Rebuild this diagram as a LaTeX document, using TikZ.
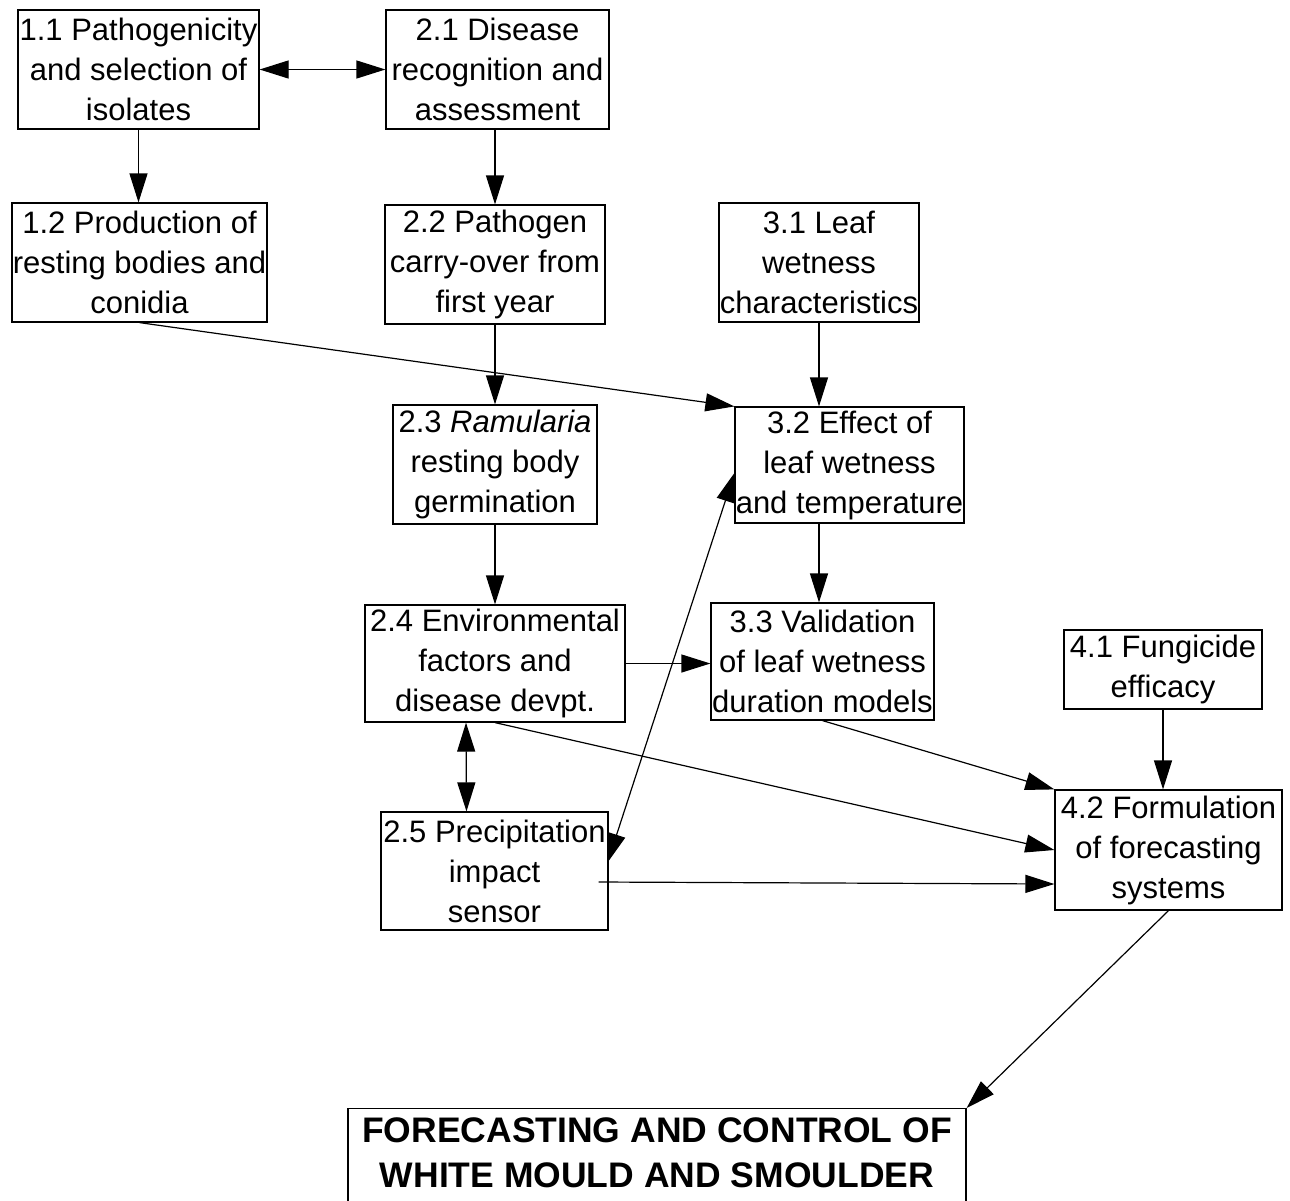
\documentclass[tikz,border=0pt]{standalone}
\usepackage{fontspec}
\setmainfont{Liberation Sans}
\usepackage{tikz}
\usetikzlibrary{calc,arrows.meta}

\begin{document}
\begin{tikzpicture}[x=1pt, y=-1pt, line width=1.2pt,
    >={Triangle[length=29pt,width=18pt]},
    box/.style={draw, inner sep=0pt, align=center, font=\fontsize{31}{40}\selectfont},
    goalbox/.style={draw, inner xsep=0pt, inner ysep=9pt, align=center, anchor=north,
        text depth=40pt, minimum width=618, font=\bfseries\fontsize{35.5}{45}\selectfont}]
                \clip (0,0) rectangle (1290,1200);
                \node[box, minimum width=241, minimum height=119] (n11) at (138.5,69.5) {1.1 Pathogenicity\\and selection of\\isolates};
                \node[box, minimum width=223, minimum height=119] (n21) at (497.5,69.5) {2.1 Disease\\recognition and\\assessment};
                \node[box, minimum width=255, minimum height=119] (n12) at (139.5,262.5) {1.2 Production of\\resting bodies and\\conidia};
                \node[box, minimum width=220, minimum height=119] (n22) at (495,264.5) {2.2 Pathogen\\carry-over from\\first year};
                \node[box, minimum width=200, minimum height=119] (n31) at (819,262.5) {3.1 Leaf\\wetness\\characteristics};
                \node[box, minimum width=204, minimum height=119] (n23) at (495,464.5) {2.3 \textit{Ramularia}\\resting body\\germination};
                \node[box, minimum width=229, minimum height=116] (n32) at (849.5,465) {3.2 Effect of\\leaf wetness\\and temperature};
                \node[box, minimum width=260, minimum height=117] (n24) at (495,663.5) {2.4 Environmental\\factors and\\disease devpt.};
                \node[box, minimum width=223, minimum height=117] (n33) at (822.5,661.5) {3.3 Validation\\of leaf wetness\\duration models};
                \node[box, minimum width=198, minimum height=79] (n41) at (1163,669.5) {4.1 Fungicide\\efficacy};
                \node[box, minimum width=227, minimum height=118] (n25) at (494.5,871) {2.5 Precipitation\\impact\\sensor};
                \node[box, minimum width=227, minimum height=120] (n42) at (1168.5,850) {4.2 Formulation\\of forecasting\\systems};
                \node[goalbox] (goal) at (657,1108) {FORECASTING AND CONTROL OF\\WHITE MOULD AND SMOULDER};

                \draw [<->] (n11) -- (n21);
                \draw [->] (n11.south) -- (n11.south |- n12.north);
                \draw [->] (n22.north |- n21.south) -- (n22.north);
                \draw [->] (n12.south) -- (n32.north west);
                \draw [->] (n22.south) -- (n23.north);
                \draw [->] (n31.south) -- (n31.south |- n32.north);
                \draw [->] (n23.south) -- (n24.north);
                \draw [->] (n31.south |- n32.south) -- (n31.south |- n33.north);
                \draw [->] (n24.east) -- (n24.east -| n33.west);
                \draw [<->] ($(n24.south)+(-29,0)$) -- ($(n25.north)+(-28,0)$);
                \draw [<->] ($(n25.north east)+(-1,51)$) -- ($(n32.west)+(0,8)$);
                \draw [->] (n24.south) -- (n42.west);
                \draw [->] (n33.south) -- (n42.north west);
                \draw [->] (n41.south) -- (n41.south |- n42.north);
                \draw [->] ($(n25.east)+(-10,11)$) -- ($(n42.west)+(0,34)$);
                \draw [->] (n42.south) -- (goal.north east);
            \end{tikzpicture}
\end{document}
